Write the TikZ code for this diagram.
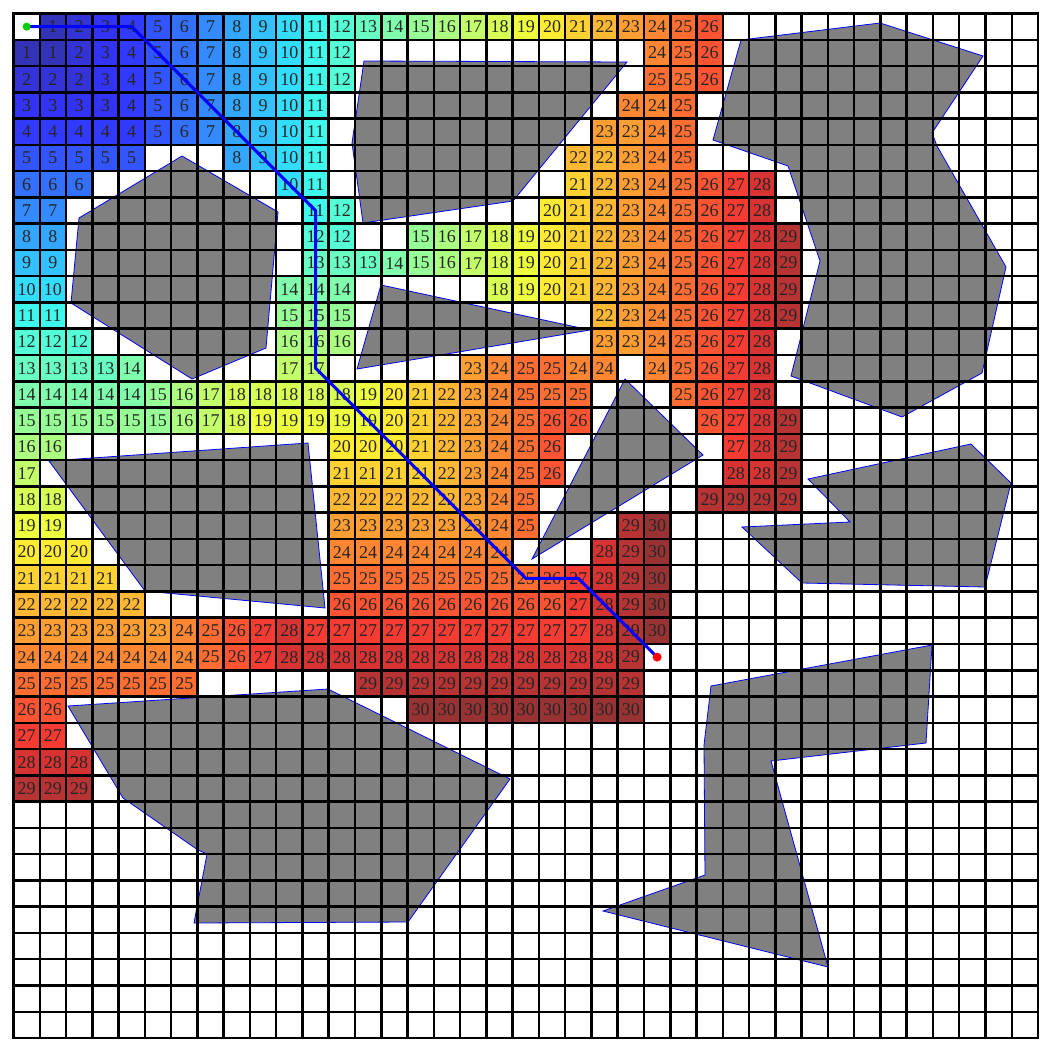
\documentclass[tikz,border=0pt]{standalone}
\usepackage{fontspec}
\setmainfont{Liberation Serif}
\definecolor{c1}{rgb}{0.2,0.2,0.721}
\definecolor{c2}{rgb}{0.2,0.2,0.842}
\definecolor{c3}{rgb}{0.2,0.2,0.964}
\definecolor{c4}{rgb}{0.2,0.227,1}
\definecolor{c5}{rgb}{0.2,0.333,1}
\definecolor{c6}{rgb}{0.2,0.44,1}
\definecolor{c7}{rgb}{0.2,0.547,1}
\definecolor{c8}{rgb}{0.2,0.653,1}
\definecolor{c9}{rgb}{0.2,0.76,1}
\definecolor{c10}{rgb}{0.2,0.867,1}
\definecolor{c11}{rgb}{0.243,0.973,0.931}
\definecolor{c12}{rgb}{0.329,1,0.845}
\definecolor{c13}{rgb}{0.415,1,0.759}
\definecolor{c14}{rgb}{0.501,1,0.673}
\definecolor{c15}{rgb}{0.587,1,0.587}
\definecolor{c16}{rgb}{0.673,1,0.501}
\definecolor{c17}{rgb}{0.759,1,0.415}
\definecolor{c18}{rgb}{0.845,1,0.329}
\definecolor{c19}{rgb}{0.931,1,0.243}
\definecolor{c20}{rgb}{1,0.921,0.2}
\definecolor{c21}{rgb}{1,0.822,0.2}
\definecolor{c22}{rgb}{1,0.723,0.2}
\definecolor{c23}{rgb}{1,0.625,0.2}
\definecolor{c24}{rgb}{1,0.526,0.2}
\definecolor{c25}{rgb}{1,0.427,0.2}
\definecolor{c26}{rgb}{1,0.328,0.2}
\definecolor{c27}{rgb}{0.964,0.230,0.2}
\definecolor{c28}{rgb}{0.842,0.2,0.2}
\definecolor{c29}{rgb}{0.721,0.2,0.2}
\definecolor{c30}{rgb}{0.6,0.2,0.2}
\definecolor{obst}{rgb}{0.502,0.502,0.502}
\newcommand\cellrow[3]{%
  \foreach \v [count=\i from #2] in {#3}{%
    \fill[c\v] ({13.5+26.27*\i},{13.5+26.27*#1}) rectangle ++(26.27,26.27);
    \node[num] (n-#1-\i) at ({13.5+26.27*(\i+0.5)},{13.5+26.27*(#1+0.5)}) {\v};
  }}
\tikzset{
  num/.style={inner sep=0pt, font=\fontsize{18pt}{18pt}\selectfont, text=black!85},
  obstacle/.style={fill=obst, draw=blue, line width=0.8pt, line join=miter},
  gridline/.style={line width=2.5pt, black, line cap=rect},
  route/.style={draw=blue, line width=3pt, line join=round, line cap=round},
}
\begin{document}
\begin{tikzpicture}[x=1pt,y=-1pt]
\useasboundingbox (0,0) rectangle (1052,1052);
\fill[white] (0,0) rectangle (1052,1052);
% distance map
\cellrow{0}{1}{1,2,3,4,5,6,7,8,9,10,11,12,13,14,15,16,17,18,19,20,21,22,23,24,25,26}
\cellrow{1}{0}{1,1,2,3,4,5,6,7,8,9,10,11,12}
\cellrow{1}{24}{24,25,26}
\cellrow{2}{0}{2,2,2,3,4,5,6,7,8,9,10,11,12}
\cellrow{2}{24}{25,25,26}
\cellrow{3}{0}{3,3,3,3,4,5,6,7,8,9,10,11}
\cellrow{3}{23}{24,24,25}
\cellrow{4}{0}{4,4,4,4,4,5,6,7,8,9,10,11}
\cellrow{4}{22}{23,23,24,25}
\cellrow{5}{0}{5,5,5,5,5}
\cellrow{5}{8}{8,9,10,11}
\cellrow{5}{21}{22,22,23,24,25}
\cellrow{6}{0}{6,6,6}
\cellrow{6}{10}{10,11}
\cellrow{6}{21}{21,22,23,24,25,26,27,28}
\cellrow{7}{0}{7,7}
\cellrow{7}{11}{11,12}
\cellrow{7}{20}{20,21,22,23,24,25,26,27,28}
\cellrow{8}{0}{8,8}
\cellrow{8}{11}{12,12}
\cellrow{8}{15}{15,16,17,18,19,20,21,22,23,24,25,26,27,28,29}
\cellrow{9}{0}{9,9}
\cellrow{9}{11}{13,13,13,14,15,16,17,18,19,20,21,22,23,24,25,26,27,28,29}
\cellrow{10}{0}{10,10}
\cellrow{10}{10}{14,14,14}
\cellrow{10}{18}{18,19,20,21,22,23,24,25,26,27,28,29}
\cellrow{11}{0}{11,11}
\cellrow{11}{10}{15,15,15}
\cellrow{11}{22}{22,23,24,25,26,27,28,29}
\cellrow{12}{0}{12,12,12}
\cellrow{12}{10}{16,16,16}
\cellrow{12}{22}{23,23,24,25,26,27,28}
\cellrow{13}{0}{13,13,13,13,14}
\cellrow{13}{10}{17,17}
\cellrow{13}{17}{23,24,25,25,24,24}
\cellrow{13}{24}{24,25,26,27,28}
\cellrow{14}{0}{14,14,14,14,14,15,16,17,18,18,18,18,18,19,20,21,22,23,24,25,25,25}
\cellrow{14}{25}{25,26,27,28}
\cellrow{15}{0}{15,15,15,15,15,15,16,17,18,19,19,19,19,19,20,21,22,23,24,25,26,26}
\cellrow{15}{26}{26,27,28,29}
\cellrow{16}{0}{16,16}
\cellrow{16}{12}{20,20,20,21,22,23,24,25,26}
\cellrow{16}{27}{27,28,29}
\cellrow{17}{0}{17}
\cellrow{17}{12}{21,21,21,21,22,23,24,25,26}
\cellrow{17}{27}{28,28,29}
\cellrow{18}{0}{18,18}
\cellrow{18}{12}{22,22,22,22,22,23,24,25}
\cellrow{18}{26}{29,29,29,29}
\cellrow{19}{0}{19,19}
\cellrow{19}{12}{23,23,23,23,23,23,24,25}
\cellrow{19}{23}{29,30}
\cellrow{20}{0}{20,20,20}
\cellrow{20}{12}{24,24,24,24,24,24,24}
\cellrow{20}{22}{28,29,30}
\cellrow{21}{0}{21,21,21,21}
\cellrow{21}{12}{25,25,25,25,25,25,25,25,26,27,28,29,30}
\cellrow{22}{0}{22,22,22,22,22}
\cellrow{22}{12}{26,26,26,26,26,26,26,26,26,27,28,29,30}
\cellrow{23}{0}{23,23,23,23,23,23,24,25,26,27,28,27,27,27,27,27,27,27,27,27,27,27,28,29,30}
\cellrow{24}{0}{24,24,24,24,24,24,24,25,26,27,28,28,28,28,28,28,28,28,28,28,28,28,28,29}
\cellrow{25}{0}{25,25,25,25,25,25,25}
\cellrow{25}{13}{29,29,29,29,29,29,29,29,29,29,29}
\cellrow{26}{0}{26,26}
\cellrow{26}{15}{30,30,30,30,30,30,30,30,30}
\cellrow{27}{0}{27,27}
\cellrow{28}{0}{28,28,28}
\cellrow{29}{0}{29,29,29}
% obstacles
\draw[obstacle] (364,61) -- (627,62) -- (513,201) -- (363,223) -- (352,143) -- cycle;
\draw[obstacle] (182,156) -- (278,212) -- (266,348) -- (192,379) -- (71,303) -- (79,218) -- cycle;
\draw[obstacle] (381,285) -- (590,330) -- (357,369) -- cycle;
\draw[obstacle] (625,379) -- (703,455) -- (532,559) -- cycle;
\draw[obstacle] (49,461) -- (308,443) -- (325,608) -- (145,591) -- cycle;
\draw[obstacle] (68,706) -- (328,689) -- (510,779) -- (408,922) -- (194,923) -- (207,854) -- (198,850) -- (123,798) -- cycle;
\draw[obstacle] (741,40) -- (880,23) -- (983,56) -- (932,133) -- (937,146) -- (1006,267) -- (982,373) -- (902,417) -- (791,376) -- (820,261) -- (788,166) -- (713,140) -- cycle;
\draw[obstacle] (808,479) -- (971,444) -- (1011,483) -- (985,587) -- (802,583) -- (742,527) -- (850,522) -- cycle;
\draw[obstacle] (711,686) -- (932,645) -- (926,743) -- (771,761) -- (828,967) -- (603,911) -- (705,875) -- (704,745) -- cycle;
% grid
\foreach \k in {0,...,39}{
  \draw[gridline] ({13.5+26.27*\k},13.5) -- ({13.5+26.27*\k},{13.5+26.27*39});
  \draw[gridline] (13.5,{13.5+26.27*\k}) -- ({13.5+26.27*39},{13.5+26.27*\k});
}
% path
\coordinate (p0) at ({13.5+26.27*0.5},{13.5+26.27*0.5});
\coordinate (p1) at ({13.5+26.27*4.5},{13.5+26.27*0.5});
\coordinate (p2) at ({13.5+26.27*11.5},{13.5+26.27*7.5});
\coordinate (p3) at ({13.5+26.27*11.5},{13.5+26.27*13.5});
\coordinate (p4) at ({13.5+26.27*19.5},{13.5+26.27*21.5});
\coordinate (p5) at ({13.5+26.27*21.5},{13.5+26.27*21.5});
\coordinate (p6) at ({13.5+26.27*24.5},{13.5+26.27*24.5});
\draw[route] (p0) -- (p1) -- (p2) -- (p3) -- (p4) -- (p5) -- (p6);
\node[circle, fill=green!80!black, minimum size=8pt, inner sep=0pt] (start) at (p0) {};
\node[circle, fill=red, minimum size=9pt, inner sep=0pt] (goal) at (p6) {};
\end{tikzpicture}
\end{document}
